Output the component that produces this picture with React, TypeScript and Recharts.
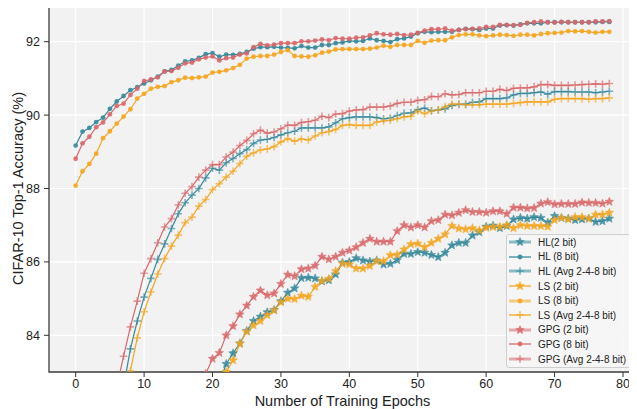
import React from 'react';
import { LineChart, Line, XAxis, YAxis, CartesianGrid, Legend, ReferenceArea } from 'recharts';

// accuracy (%) per training epoch 0..78, null = below the visible range
const hl2 = [
  null, null, null, null, null, null, null, null, null, null,
  null, null, null, null, null, null, null, null, null, null,
  null, 82.7, 83.22, 83.51, 83.78, 84.12, 84.39, 84.51, 84.63, 84.69,
  84.93, 85.16, 85.28, 85.56, 85.57, 85.55, 85.47, 85.5, 85.66, 85.98,
  86.0, 86.1, 86.04, 86.01, 86.04, 85.93, 85.95, 86.05, 86.22, 86.22,
  86.27, 86.25, 86.19, 86.13, 86.25, 86.45, 86.52, 86.52, 86.72, 86.81,
  86.96, 86.99, 86.92, 86.98, 87.16, 87.2, 87.18, 87.22, 87.2, 87.07,
  87.25, 87.2, 87.18, 87.14, 87.16, 87.18, 87.09, 87.11, 87.18,
];
const hl8 = [
  89.17, 89.55, 89.65, 89.81, 89.93, 90.17, 90.37, 90.52, 90.68, 90.76,
  90.86, 90.95, 91.05, 91.19, 91.23, 91.35, 91.46, 91.49, 91.56, 91.66,
  91.69, 91.59, 91.65, 91.64, 91.67, 91.72, 91.81, 91.85, 91.85, 91.86,
  91.84, 91.83, 91.82, 91.88, 91.84, 91.84, 91.91, 91.91, 91.96, 91.98,
  92.02, 92.01, 92.02, 92.09, 92.04, 92.02, 91.99, 92.07, 92.09, 92.14,
  92.23, 92.27, 92.26, 92.27, 92.27, 92.27, 92.32, 92.35, 92.34, 92.32,
  92.36, 92.36, 92.44, 92.45, 92.44, 92.47, 92.5, 92.5, 92.5, 92.53,
  92.53, 92.53, 92.53, 92.53, 92.53, 92.53, 92.53, 92.54, 92.54,
];
const hlAvg = [
  null, null, null, null, null, null, null, 82.6, 83.63, 84.39,
  85.04, 85.55, 86.07, 86.49, 86.91, 87.31, 87.61, 87.82, 88.0, 88.29,
  88.55, 88.5, 88.7, 88.82, 88.95, 89.06, 89.23, 89.32, 89.34, 89.39,
  89.46, 89.52, 89.56, 89.65, 89.65, 89.65, 89.65, 89.68, 89.79, 89.9,
  89.93, 89.95, 89.95, 89.95, 89.93, 89.9, 89.92, 89.99, 90.05, 90.06,
  90.15, 90.19, 90.12, 90.14, 90.17, 90.26, 90.29, 90.3, 90.35, 90.36,
  90.45, 90.45, 90.45, 90.47, 90.55, 90.59, 90.59, 90.61, 90.63, 90.57,
  90.64, 90.64, 90.64, 90.63, 90.63, 90.63, 90.61, 90.63, 90.65,
];
const ls2 = [
  null, null, null, null, null, null, null, null, null, null,
  null, null, null, null, null, null, null, null, null, null,
  null, null, 83.0, 83.32, 83.77, 84.1, 84.27, 84.39, 84.55, 84.68,
  84.9, 85.0, 84.99, 85.08, 85.05, 85.32, 85.48, 85.54, 85.75, 85.95,
  85.93, 85.82, 85.82, 85.89, 86.02, 86.02, 86.18, 86.2, 86.34, 86.48,
  86.5, 86.4, 86.52, 86.63, 86.75, 86.98, 86.91, 86.89, 86.92, 86.86,
  86.93, 86.95, 86.96, 87.0, 86.92, 87.0, 86.98, 86.98, 86.98, 86.96,
  87.14, 87.2, 87.16, 87.22, 87.22, 87.18, 87.29, 87.29, 87.34,
];
const ls8 = [
  88.08, 88.47, 88.67, 88.95, 89.37, 89.56, 89.77, 89.96, 90.16, 90.45,
  90.58, 90.72, 90.77, 90.79, 90.9, 90.95, 91.02, 91.01, 91.03, 91.05,
  91.16, 91.18, 91.22, 91.28, 91.37, 91.54, 91.59, 91.61, 91.61, 91.65,
  91.72, 91.77, 91.61, 91.6, 91.59, 91.63, 91.7, 91.73, 91.79, 91.8,
  91.8, 91.8, 91.8, 91.81, 91.84, 91.89, 91.86, 91.91, 91.91, 91.91,
  92.02, 91.97, 92.03, 92.04, 92.04, 92.12, 92.18, 92.2, 92.2, 92.17,
  92.15, 92.17, 92.19, 92.18, 92.16, 92.19, 92.19, 92.17, 92.21, 92.23,
  92.24, 92.25, 92.29, 92.28, 92.29, 92.27, 92.25, 92.27, 92.27,
];
const lsAvg = [
  null, null, null, null, null, null, null, null, 83.03, 83.93,
  84.64, 85.18, 85.67, 86.09, 86.43, 86.73, 87.07, 87.22, 87.52, 87.7,
  87.97, 88.13, 88.31, 88.47, 88.68, 88.88, 88.97, 89.05, 89.08, 89.14,
  89.27, 89.36, 89.29, 89.35, 89.32, 89.43, 89.52, 89.55, 89.61, 89.72,
  89.74, 89.72, 89.72, 89.72, 89.81, 89.84, 89.86, 89.9, 89.95, 89.97,
  90.11, 90.04, 90.11, 90.14, 90.23, 90.3, 90.3, 90.28, 90.28, 90.28,
  90.3, 90.3, 90.3, 90.3, 90.32, 90.34, 90.36, 90.36, 90.36, 90.36,
  90.43, 90.45, 90.45, 90.45, 90.45, 90.43, 90.45, 90.45, 90.47,
];
const gpg2 = [
  null, null, null, null, null, null, null, null, null, null,
  null, null, null, null, null, null, null, null, null, 82.95,
  83.36, 83.52, 84.0, 84.25, 84.57, 84.81, 85.05, 85.22, 85.09, 85.14,
  85.4, 85.65, 85.61, 85.8, 85.82, 85.9, 86.14, 86.07, 86.14, 86.25,
  86.31, 86.4, 86.52, 86.63, 86.55, 86.55, 86.55, 86.84, 87.0, 86.94,
  87.0, 86.94, 87.11, 87.14, 87.29, 87.27, 87.34, 87.41, 87.36, 87.36,
  87.34, 87.38, 87.38, 87.31, 87.48, 87.48, 87.46, 87.47, 87.59, 87.63,
  87.57, 87.58, 87.58, 87.58, 87.62, 87.61, 87.61, 87.59, 87.64,
];
const gpg8 = [
  88.81, 89.23, 89.41, 89.67, 89.8, 90.02, 90.25, 90.31, 90.55, 90.72,
  90.93, 90.97, 91.03, 91.19, 91.2, 91.29, 91.41, 91.43, 91.52, 91.57,
  91.6, 91.49, 91.55, 91.57, 91.65, 91.68, 91.85, 91.94, 91.9, 91.92,
  91.96, 91.96, 91.96, 92.01, 92.01, 92.03, 92.06, 92.04, 92.1, 92.08,
  92.08, 92.11, 92.12, 92.17, 92.23, 92.2, 92.19, 92.21, 92.18, 92.19,
  92.24, 92.3, 92.34, 92.34, 92.36, 92.3, 92.32, 92.34, 92.35, 92.36,
  92.4, 92.4, 92.46, 92.46, 92.45, 92.46, 92.51, 92.53, 92.55, 92.53,
  92.52, 92.54, 92.53, 92.53, 92.53, 92.53, 92.55, 92.55, 92.56,
];
const gpgAvg = [
  null, null, null, null, null, null, 82.6, 83.43, 84.23, 84.93,
  85.69, 86.09, 86.52, 86.95, 87.18, 87.55, 87.87, 88.05, 88.31, 88.5,
  88.65, 88.65, 88.86, 88.99, 89.17, 89.31, 89.49, 89.59, 89.51, 89.54,
  89.63, 89.73, 89.72, 89.8, 89.82, 89.86, 89.97, 89.93, 90.03, 90.04,
  90.11, 90.14, 90.15, 90.22, 90.22, 90.22, 90.25, 90.32, 90.35, 90.35,
  90.4, 90.42, 90.51, 90.5, 90.58, 90.55, 90.56, 90.61, 90.61, 90.61,
  90.65, 90.65, 90.7, 90.67, 90.73, 90.74, 90.74, 90.77, 90.83, 90.83,
  90.81, 90.81, 90.81, 90.82, 90.83, 90.84, 90.85, 90.84, 90.86,
];

const xTicks = [0, 10, 20, 30, 40, 50, 60, 70, 80];
const yTicks = [84, 86, 88, 90, 92];

const TEAL = '#378a9c';
const ORANGE = '#f4a620';
const RED = '#d9686b';
const FONT = '"Liberation Sans", Arial, sans-serif';

type Mark = 'star' | 'dot' | 'plus';

const series: { key: string; name: string; values: (number | null)[]; color: string; mark: Mark; thick: boolean }[] = [
  { key: 'hl2', name: 'HL(2 bit)', values: hl2, color: TEAL, mark: 'star', thick: true },
  { key: 'hl8', name: 'HL (8 bit)', values: hl8, color: TEAL, mark: 'dot', thick: false },
  { key: 'hlAvg', name: 'HL (Avg 2-4-8 bit)', values: hlAvg, color: TEAL, mark: 'plus', thick: true },
  { key: 'ls2', name: 'LS (2 bit)', values: ls2, color: ORANGE, mark: 'star', thick: false },
  { key: 'ls8', name: 'LS (8 bit)', values: ls8, color: ORANGE, mark: 'dot', thick: true },
  { key: 'lsAvg', name: 'LS (Avg 2-4-8 bit)', values: lsAvg, color: ORANGE, mark: 'plus', thick: false },
  { key: 'gpg2', name: 'GPG (2 bit)', values: gpg2, color: RED, mark: 'star', thick: true },
  { key: 'gpg8', name: 'GPG (8 bit)', values: gpg8, color: RED, mark: 'dot', thick: false },
  { key: 'gpgAvg', name: 'GPG (Avg 2-4-8 bit)', values: gpgAvg, color: RED, mark: 'plus', thick: true },
];

const data = hl8.map((_, i) => {
  const row: Record<string, number | null> = { epoch: i };
  series.forEach((s) => {
    row[s.key] = s.values[i];
  });
  return row;
});

const starPath = (cx: number, cy: number, r: number) => {
  const pts: string[] = [];
  for (let i = 0; i < 10; i++) {
    const rad = i % 2 === 0 ? r : r * 0.45;
    const a = -Math.PI / 2 + (i * Math.PI) / 5;
    pts.push(`${(cx + rad * Math.cos(a)).toFixed(2)},${(cy + rad * Math.sin(a)).toFixed(2)}`);
  }
  return `M${pts.join('L')}Z`;
};

const Marker = ({ kind, cx, cy, color }: { kind: Mark; cx: number; cy: number; color: string }) => {
  if (kind === 'star') {
    return <path d={starPath(cx, cy, 4.6)} fill={color} fillOpacity={0.85} stroke={color} strokeOpacity={0.5} strokeWidth={0.8} />;
  }
  if (kind === 'dot') {
    return <circle cx={cx} cy={cy} r={2.4} fill={color} fillOpacity={0.9} />;
  }
  return (
    <path
      d={`M${cx - 3.8},${cy}H${cx + 3.8}M${cx},${cy - 3.8}V${cy + 3.8}`}
      stroke={color}
      strokeOpacity={0.65}
      strokeWidth={1.6}
      fill="none"
    />
  );
};

const LegendBox = () => (
  <div
    style={{
      width: 125,
      boxSizing: 'border-box',
      padding: '0 0 1px 0',
      border: '1px solid #cfcfcf',
      borderRadius: 3,
      background: 'rgba(246,246,246,0.92)',
      fontFamily: FONT,
      fontSize: 10,
      color: '#222',
    }}
  >
    {series.map((s) => (
      <div key={s.key} style={{ display: 'flex', alignItems: 'center', height: 14.6 }}>
        <svg width={31} height={14} style={{ flex: 'none' }}>
          <line
            x1={2}
            x2={24}
            y1={7}
            y2={7}
            stroke={s.color}
            strokeWidth={s.thick ? 3 : 1.3}
            strokeOpacity={s.thick ? 0.55 : 1}
          />
          <Marker kind={s.mark} cx={13} cy={7} color={s.color} />
        </svg>
        <span style={{ whiteSpace: 'nowrap' }}>{s.name}</span>
      </div>
    ))}
  </div>
);

export default function App() {
  return (
    <div style={{ margin: '-8px 0 0 -8px', width: 637, height: 409, background: '#fff' }}>
      <LineChart width={637} height={409} data={data} margin={{ top: 5, right: 1, left: 0, bottom: 0 }}>
        <CartesianGrid fill="#f2f2f2" stroke="#ffffff" strokeWidth={1.2} />
        <XAxis
          dataKey="epoch"
          type="number"
          domain={[-3.9, 81.9]}
          ticks={xTicks}
          allowDataOverflow
          axisLine={false}
          tickSize={5}
          tickMargin={2}
          height={37}
          tick={{ fontSize: 12.5, fill: '#222', fontFamily: FONT }}
          tickLine={{ stroke: '#333' }}
          label={{ value: 'Number of Training Epochs', position: 'insideBottom', offset: 3, fontSize: 14.5, fill: '#222', fontFamily: FONT }}
        />
        <YAxis
          type="number"
          domain={[83, 93]}
          ticks={yTicks}
          allowDataOverflow
          axisLine={false}
          width={49}
          tickSize={5}
          tickMargin={4}
          tick={{ fontSize: 12.5, fill: '#222', fontFamily: FONT }}
          tickLine={{ stroke: '#333' }}
          label={{
            content: () => (
              <text x={18} y={188.5} transform="rotate(-90 18 188.5)" textAnchor="middle" dominantBaseline="central" fontSize={14.5} fill="#222" fontFamily={FONT}>
                CIFAR-10 Top-1 Accuracy (%)
              </text>
            ),
          }}
        />
        {series.map((s) => (
          <Line
            key={s.key}
            dataKey={s.key}
            name={s.name}
            type="linear"
            stroke={s.color}
            strokeWidth={1.2}
            connectNulls={false}
            isAnimationActive={false}
            activeDot={false}
            dot={(p: any) =>
              p.cx == null || p.cy == null || p.value == null ? (
                <g key={`${s.key}-${p.index}`} />
              ) : (
                <g key={`${s.key}-${p.index}`}>
                  <Marker kind={s.mark} cx={p.cx} cy={p.cy} color={s.color} />
                </g>
              )
            }
          />
        ))}
        <ReferenceArea x1={-3.9} x2={81.9} y1={83} y2={93} fill="none" stroke="#3a3a3a" strokeWidth={1.3} ifOverflow="visible" />
        <Legend
          layout="vertical"
          align="center"
          verticalAlign="middle"
          content={() => <LegendBox />}
          wrapperStyle={{ left: 506, top: 234, width: 125, height: 'auto' }}
        />
      </LineChart>
    </div>
  );
}
